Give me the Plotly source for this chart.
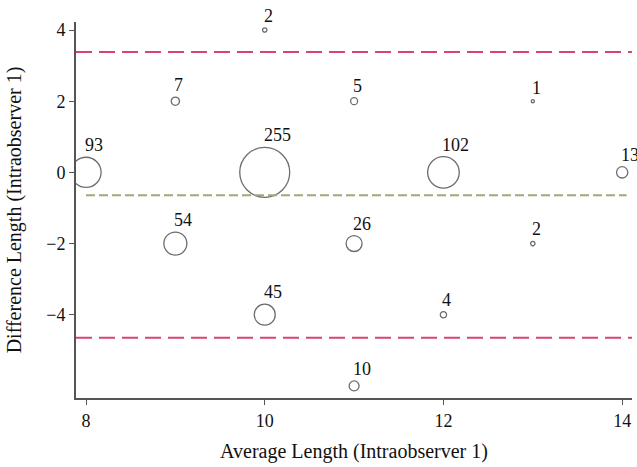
import numpy as np
import plotly.graph_objects as go

# average length, difference length, and number of cases at each point
avg_len = [8, 9, 9, 10, 10, 10, 11, 11, 11, 12, 12, 13, 13, 14]
diff_len = [0, 2, -2, 4, 0, -4, 2, -2, -6, 0, -4, 2, -2, 0]
counts = [93, 7, 54, 2, 255, 45, 5, 26, 10, 102, 4, 1, 2, 13]

mean_diff = -0.64
upper_loa = 3.38
lower_loa = -4.65

x_ticks = [8, 10, 12, 14]
y_ticks = [-4, -2, 0, 2, 4]

SIZEREF = 0.204
FONT = "Liberation Serif"

fig = go.Figure()
fig.add_trace(go.Scatter(
    x=avg_len, y=diff_len, mode="markers",
    marker=dict(symbol="circle-open", size=counts, sizemode="area",
                sizeref=SIZEREF, sizemin=0.5, color="#2e2e2e",
                line=dict(width=1.3, color="#2e2e2e")),
    showlegend=False, hoverinfo="skip",
))

# count labels sit just above each bubble, starting at its centre
radii = np.sqrt(2 * np.array(counts) / SIZEREF) / 2
for x, y, n, r in zip(avg_len, diff_len, counts, radii):
    fig.add_annotation(x=x, y=y, text=str(n), showarrow=False,
                       xanchor="left", yanchor="bottom",
                       xshift=-3, yshift=r,
                       font=dict(family=FONT, size=18, color="#111"))

fig.add_shape(type="line", xref="paper", x0=0, x1=1, y0=upper_loa, y1=upper_loa,
              line=dict(color="#d9446e", width=2, dash="16px,7px"))
fig.add_shape(type="line", xref="paper", x0=0, x1=1, y0=lower_loa, y1=lower_loa,
              line=dict(color="#d9446e", width=2, dash="16px,7px"))
fig.add_shape(type="line", x0=8, x1=14.05, y0=mean_diff, y1=mean_diff,
              line=dict(color="#a5a679", width=2, dash="9px,4px"))

fig.update_layout(
    width=637, height=467,
    margin=dict(l=76, r=5, t=22, b=69),
    paper_bgcolor="white", plot_bgcolor="white",
    font=dict(family=FONT, size=17, color="#111"),
    xaxis=dict(range=[7.888, 14.11], tickvals=x_ticks, showgrid=False, zeroline=False,
               showline=True, linecolor="#555", linewidth=2,
               ticks="outside", ticklen=5, tickcolor="#555", automargin=False,
               tickfont=dict(size=18),
               title=dict(text="Average Length (Intraobserver 1)", standoff=14)),
    yaxis=dict(range=[-6.34, 4.225], tickvals=y_ticks, showgrid=False, zeroline=False,
               showline=True, linecolor="#555", linewidth=2,
               ticks="outside", ticklen=5, tickcolor="#555", automargin=False,
               tickfont=dict(size=18),
               title=dict(text="Difference Length (Intraobserver 1)", standoff=19)),
)

# drop the default page margin so the figure fills the window exactly
fig.write_html("out.html", config={"displayModeBar": False},
               post_script="document.body.style.margin='0';")
